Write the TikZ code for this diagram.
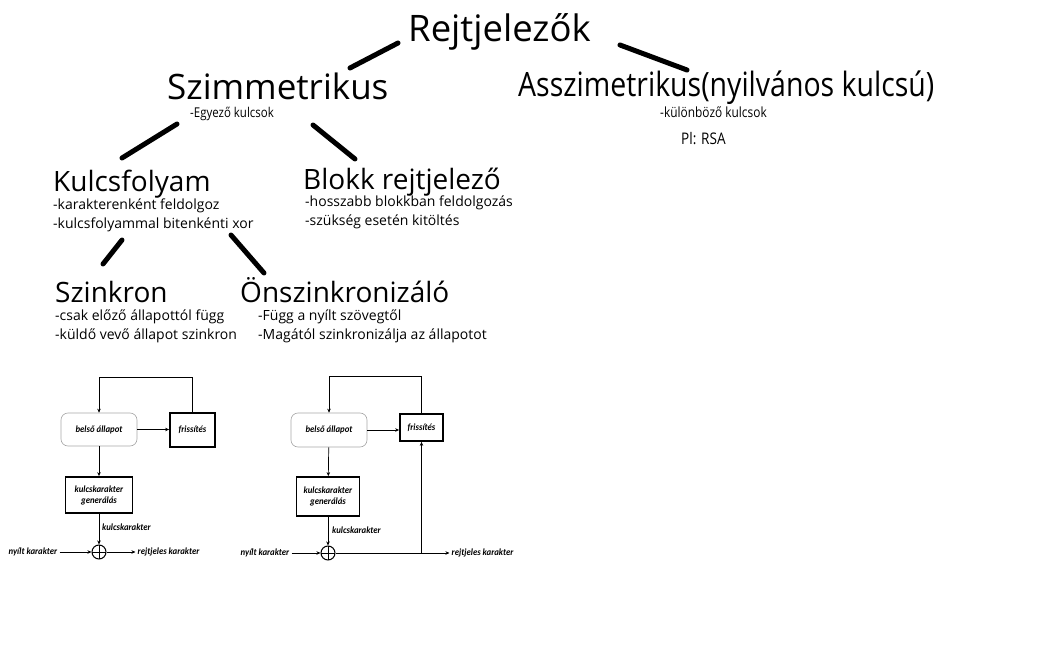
\documentclass[tikz,border=0pt]{standalone}
\usepackage{fontspec}
\setmainfont{Open Sans}
\newfontfamily\narrowfont[FakeStretch=0.85]{Open Sans}
\newfontfamily\diafont[FakeStretch=0.92]{Carlito}
\usetikzlibrary{arrows.meta,positioning}

\tikzset{
  title/.style={anchor=base west,inner sep=0pt,font=\fontsize{35}{40}\selectfont},
  subtitle/.style={anchor=base west,inner sep=0pt,font=\fontsize{28}{32}\selectfont},
  note/.style={anchor=base west,inner sep=0pt,font=\fontsize{14}{16}\selectfont},
  smallnote/.style={anchor=base west,inner sep=0pt,font=\narrowfont\fontsize{14}{16}\selectfont},
  branch/.style={line width=5pt,line cap=round},
  dia/.style={inner sep=2pt,font=\diafont\bfseries\itshape\fontsize{9.5}{11}\selectfont},
  state/.style={dia,draw=gray!70,rounded corners=7pt,line width=0.6pt},
  block/.style={dia,draw,line width=1.8pt,align=center,inner sep=1pt},
  flow/.style={-{Stealth[length=4pt,width=3.5pt]},line width=0.7pt},
  xorsym/.style={circle,draw,line width=1pt,minimum size=14pt,inner sep=0pt,
    path picture={\draw[line width=0.5pt] (path picture bounding box.north) -- (path picture bounding box.south)
      (path picture bounding box.west) -- (path picture bounding box.east);}}
}

\begin{document}
\begin{tikzpicture}[x=1pt,y=-1pt]
\useasboundingbox (0,0) rectangle (1047,671);

% tree of cipher kinds
\node[title,font=\fontsize{36.5}{40}\selectfont] (root) at (408,42) {Rejtjelezők};
\node[title] (sym) at (167,100) {Szimmetrikus};
\node[title,font=\narrowfont\fontsize{33.5}{38}\selectfont] (asym) at (518,97) {Asszimetrikus(nyilvános kulcsú)};
\node[smallnote,font=\narrowfont\fontsize{13.5}{16}\selectfont] (symnote) at (190,118) {-Egyező kulcsok};
\node[smallnote] (asymnote) at (660,118) {-különböző kulcsok};
\node[smallnote,font=\narrowfont\fontsize{16}{18}\selectfont] (rsa) at (681,145) {Pl: RSA};

\node[subtitle] (stream) at (53,192) {Kulcsfolyam};
\node[note] (stream1) at (53,210) {-karakterenként feldolgoz};
\node[note] (stream2) at (53,229) {-kulcsfolyammal bitenkénti xor};
\node[subtitle] (blk) at (303,190) {Blokk rejtjelező};
\node[note] (blk1) at (305,207) {-hosszabb blokkban feldolgozás};
\node[note] (blk2) at (305,226) {-szükség esetén kitöltés};

\node[subtitle] (sync) at (55,302) {Szinkron};
\node[note] (sync1) at (55,320) {-csak előző állapottól függ};
\node[note] (sync2) at (55,339) {-küldő vevő állapot szinkron};
\node[subtitle] (selfsync) at (240,302) {Önszinkronizáló};
\node[note] (selfsync1) at (258,320) {-Függ a nyílt szövegtől};
\node[note] (selfsync2) at (258,339) {-Magától szinkronizálja az állapotot};

\coordinate (rootL) at (350,68); \coordinate (rootLe) at (398,43);
\coordinate (rootR) at (620,45); \coordinate (rootRe) at (687,70);
\coordinate (symL) at (177,124); \coordinate (symLe) at (122,158);
\coordinate (symR) at (313,125); \coordinate (symRe) at (355,159);
\coordinate (strL) at (122,240); \coordinate (strLe) at (103,264);
\coordinate (strR) at (231,235); \coordinate (strRe) at (264,273);
\draw[branch] (rootL) -- (rootLe);
\draw[branch] (rootR) -- (rootRe);
\draw[branch] (symL) -- (symLe);
\draw[branch] (symR) -- (symRe);
\draw[branch] (strL) -- (strLe);
\draw[branch] (strR) -- (strRe);

% synchronous stream cipher
\node[state,minimum width=76pt,minimum height=33pt] (lstate) at (99,429.5) {belső állapot};
\node[block,minimum width=45pt,minimum height=34pt] (lupd) at (192.5,430) {frissítés};
\node[block,minimum width=67pt,minimum height=36pt] (lgen) at (99,495) {kulcskarakter\\generálás};
\node[xorsym] (lxor) at (99,552) {};
\node[dia,left=32pt of lxor] (lin) {nyílt karakter};
\node[dia,right=29pt of lxor] (lout) {rejtjeles karakter};
\node[dia,anchor=west] (lkey) at (100,527) {kulcskarakter};
\draw[flow] (lupd.north) -- ++(0,-35) -| (lstate.north);
\draw[flow] (lstate.east) -- (lstate.east -| lupd.west);
\draw[flow] (lstate) -- (lgen);
\draw[flow] (lgen) -- (lxor);
\draw[flow] (lin) -- (lxor);
\draw[flow] (lxor) -- (lout);

% self-synchronizing stream cipher
\node[state,minimum width=76pt,minimum height=34pt] (rstate) at (329,430) {belső állapot};
\node[block,minimum width=43pt,minimum height=27pt] (rupd) at (421.5,427.5) {frissítés};
\node[block,minimum width=63pt,minimum height=39pt] (rgen) at (328,496.5) {kulcskarakter\\generálás};
\node[xorsym] (rxor) at (328,553) {};
\node[dia,left=29pt of rxor] (rin) {nyílt karakter};
\node[dia,right=114pt of rxor] (rout) {rejtjeles karakter};
\node[dia,anchor=west] (rkey) at (330,530) {kulcskarakter};
\coordinate (rsplit) at (rxor -| rupd);
\draw[flow] (rupd.north) -- ++(0,-37) -| (rstate.north);
\draw[flow] (rstate.east) -- (rstate.east -| rupd.west);
\draw[flow] (rstate) -- (rgen);
\draw[flow] (rgen) -- (rxor);
\draw[flow] (rin) -- (rxor);
\draw[flow] (rxor) -- (rout);
\draw[flow] (rsplit) -- (rupd);
\end{tikzpicture}
\end{document}
